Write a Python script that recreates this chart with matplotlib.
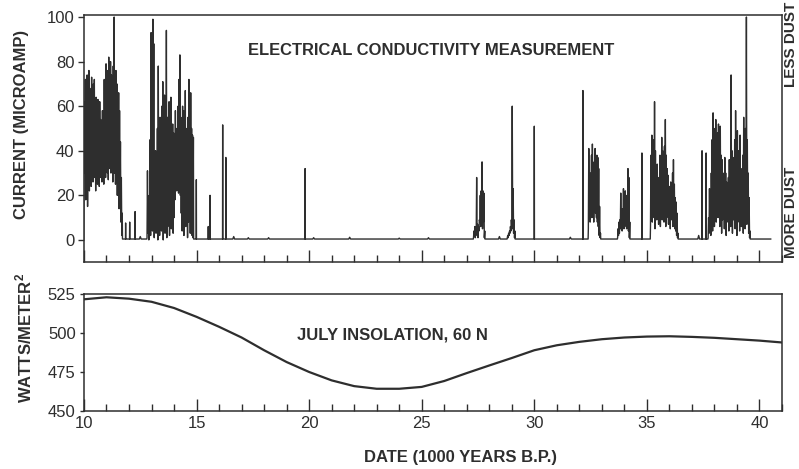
import matplotlib
matplotlib.use("Agg")
import matplotlib.pyplot as plt
from matplotlib.ticker import MultipleLocator

plt.rcParams["font.family"] = ["Liberation Sans", "DejaVu Sans"]
plt.rcParams["mathtext.fontset"] = "custom"
plt.rcParams["mathtext.bf"] = "Liberation Sans:bold"
plt.rcParams["mathtext.rm"] = "Liberation Sans:bold"

INK = "#2e2e2e"

# --- conductivity record (dense bursts read as low/high pairs, step 0.04 kyr) ---
STEP = 0.04
BASE = 0.4

b1_start = 10.00
b1_high = [62, 72, 66, 74, 60, 76, 68, 58, 73, 64, 70, 72, 55, 64, 58, 63, 50, 62, 54, 52,
           58, 46, 72, 62, 79, 64, 76, 82, 70, 80, 74, 68, 78, 100, 72, 76, 70, 64, 66, 58,
           44, 28, 12]
b1_low = [20, 30, 18, 25, 15, 28, 22, 32, 24, 30, 26, 34, 28, 22, 30, 25, 32, 24, 28, 35,
          26, 30, 25, 33, 28, 35, 30, 27, 32, 36, 30, 34, 26, 38, 30, 25, 32, 20, 25, 14,
          18, 8, 2]

b2_start = 12.80
b2_high = [31, 12, 20, 45, 93, 60, 99, 88, 30, 40, 25, 50, 78, 45, 55, 40, 60, 71, 50, 65,
           45, 94, 55, 48, 62, 50, 64, 45, 52, 48, 42, 58, 50, 45, 60, 72, 83, 55, 48, 60,
           58, 52, 67, 50, 45, 55, 72, 60, 66, 50, 47, 46]
b2_low = [1, 3, 0, 8, 2, 12, 4, 14, 1, 10, 3, 6, 0, 12, 2, 15, 4, 8, 0, 10,
          3, 13, 1, 6, 12, 2, 9, 5, 14, 3, 10, 18, 24, 22, 26, 21, 25, 20, 12, 4,
          15, 2, 10, 6, 14, 1, 8, 12, 3, 10, 2, 1]

b3_start = 27.30
b3_high = [4, 6, 5, 28, 7, 6, 9, 20, 22, 35, 22, 21, 4]
b3_low = [1, 2, 1, 3, 2, 1, 4, 8, 6, 10, 5, 8, 1]

b4_start = 28.80
b4_high = [2, 3, 4, 6, 9, 60, 23, 9, 4]
b4_low = [1, 1, 2, 3, 4, 6, 5, 3, 1]

b5_start = 32.40
b5_high = [41, 18, 30, 38, 43, 28, 35, 41, 30, 38, 37, 32, 15, 3]
b5_low = [5, 10, 8, 14, 10, 12, 8, 15, 12, 10, 8, 6, 2, 1]

b6_start = 33.70
b6_high = [5, 8, 9, 21, 12, 14, 23, 16, 22, 18, 20, 32, 28, 8]
b6_low = [1, 2, 3, 5, 6, 4, 7, 5, 6, 8, 5, 6, 4, 1]

b7_start = 35.16
b7_high = [38, 47, 40, 45, 62, 40, 30, 34, 27, 28, 38, 25, 46, 40, 30, 42, 54, 38, 32, 29,
           22, 24, 26, 20, 30, 36, 25, 19, 17, 12, 3]
b7_low = [6, 12, 8, 15, 10, 5, 12, 9, 14, 7, 11, 6, 13, 9, 15, 8, 12, 6, 10, 14,
          7, 11, 5, 9, 12, 6, 8, 5, 4, 2, 1]

b8_start = 37.72
b8_high = [10, 23, 18, 30, 45, 57, 50, 46, 54, 40, 48, 52, 42, 51, 38, 36, 30, 28, 37, 30,
           26, 22, 28, 36, 30, 74, 40, 37, 30, 45, 58, 44, 49, 40, 35, 47, 32, 24, 38, 55,
           44, 50, 100, 45, 30, 19, 4]
b8_low = [1, 3, 6, 2, 10, 4, 12, 6, 14, 8, 20, 10, 24, 6, 12, 3, 9, 14, 5, 11,
          2, 8, 13, 4, 10, 6, 12, 3, 9, 15, 5, 11, 2, 8, 14, 4, 10, 6, 12, 3,
          9, 5, 13, 7, 10, 3, 1]

spike_dates = [11.85, 12.03, 12.27, 14.99, 15.52, 15.60, 16.16, 16.30, 19.82,
               30.00, 32.16, 34.78, 37.45, 37.63]
spike_heights = [7.6, 8, 12.7, 27, 6, 20, 51.6, 37, 32,
                 51, 67, 39, 40, 39]

blip_dates = [12.50, 16.65, 17.30, 18.20, 20.20, 21.80, 24.00, 25.30, 28.45, 31.60, 37.30]
blip_heights = [1.5, 1.5, 1.0, 1.0, 1.0, 1.2, 0.8, 1.0, 1.5, 1.2, 2.0]

record_end = 40.5

# --- July insolation, 60 N ---
ins_dates = list(range(10, 42))
ins_values = [521.6, 522.9, 522.0, 520.0, 516.0, 510.3, 503.9, 497.0, 488.8, 481.2,
              474.8, 469.4, 465.7, 464.0, 464.0, 465.2, 469.0, 474.1, 479.0, 483.8,
              488.8, 492.0, 494.2, 495.9, 497.0, 497.6, 497.8, 497.4, 496.8, 495.9,
              495.0, 493.8]


def burst_points(start, highs, lows):
    xs, ys = [], []
    for i, (h, lo) in enumerate(zip(highs, lows)):
        d = start + STEP * i
        xs += [d, d + STEP / 2]
        ys += [lo, h]
    return xs, ys


events = []
for s, hi, lo in [(b1_start, b1_high, b1_low), (b2_start, b2_high, b2_low),
                  (b3_start, b3_high, b3_low), (b4_start, b4_high, b4_low),
                  (b5_start, b5_high, b5_low), (b6_start, b6_high, b6_low),
                  (b7_start, b7_high, b7_low), (b8_start, b8_high, b8_low)]:
    events.append(burst_points(s, hi, lo))
for d, h in zip(spike_dates, spike_heights):
    events.append(([d - 0.006, d, d + 0.006], [BASE, h, BASE]))
for d, h in zip(blip_dates, blip_heights):
    events.append(([d - 0.04, d, d + 0.04], [BASE, h, BASE]))
events.sort(key=lambda e: e[0][0])

cx, cy = [], []
for xs, ys in events:
    cx += [xs[0] - 0.01] + xs + [xs[-1] + 0.01]
    cy += [BASE] + ys + [BASE]
cx.append(record_end)
cy.append(BASE)

fig = plt.figure(figsize=(7.99, 4.69), dpi=100)
ax1 = fig.add_axes([0.1051, 0.4414, 0.8736, 0.5266])
ax2 = fig.add_axes([0.1051, 0.1247, 0.8736, 0.2484])

ax1.plot(cx, cy, color=INK, linewidth=1.0)
ax1.set_xlim(10, 41)
ax1.set_ylim(-9.9, 100.9)
ax1.set_yticks([0, 20, 40, 60, 80, 100])
ax1.xaxis.set_major_locator(MultipleLocator(5))
ax1.xaxis.set_minor_locator(MultipleLocator(1))
ax1.tick_params(axis="x", which="major", direction="in", length=9, width=1.0,
                labelbottom=False, color=INK)
ax1.tick_params(axis="x", which="minor", direction="in", length=5, width=1.0, color=INK)
ax1.tick_params(axis="y", direction="out", length=4, width=1.0, labelsize=12,
                labelcolor=INK, color=INK, pad=3)
ax1.text(0.235, 0.855, "ELECTRICAL CONDUCTIVITY MEASUREMENT", transform=ax1.transAxes,
         fontsize=11.9, fontweight="bold", color=INK, va="center", ha="left")

ax2.plot(ins_dates, ins_values, color=INK, linewidth=1.6)
ax2.set_xlim(10, 41)
ax2.set_ylim(450, 525)
ax2.set_yticks([450, 475, 500, 525])
ax2.xaxis.set_major_locator(MultipleLocator(5))
ax2.xaxis.set_minor_locator(MultipleLocator(1))
ax2.tick_params(axis="x", which="major", direction="in", length=9, width=1.0,
                labelsize=12, labelcolor=INK, color=INK, pad=4)
ax2.tick_params(axis="x", which="minor", direction="in", length=5, width=1.0, color=INK)
ax2.tick_params(axis="y", direction="out", length=3, width=1.0, labelsize=12,
                labelcolor=INK, color=INK, pad=3)
ax2.text(0.305, 0.65, "JULY INSOLATION, 60 N", transform=ax2.transAxes,
         fontsize=12, fontweight="bold", color=INK, va="center", ha="left")

for ax in (ax1, ax2):
    for sp in ax.spines.values():
        sp.set_linewidth(1.1)
        sp.set_color(INK)

fig.text(22 / 799, 1 - 124 / 469, "CURRENT (MICROAMP)", rotation=90, ha="center",
         va="center", fontsize=12, fontweight="bold", color=INK)
fig.text(24 / 799, 1 - 338 / 469, r"WATTS/METER$^{\mathbf{2}}$", rotation=90, ha="center",
         va="center", fontsize=12, fontweight="bold", color=INK)
fig.text(460 / 799, 1 - 457 / 469, "DATE (1000 YEARS B.P.)", ha="center", va="center",
         fontsize=12, fontweight="bold", color=INK)
fig.text(791 / 799, 1 - 44 / 469, "LESS DUST", rotation=90, ha="center", va="center",
         fontsize=11, fontweight="bold", color=INK)
fig.text(791 / 799, 1 - 212 / 469, "MORE DUST", rotation=90, ha="center", va="center",
         fontsize=11, fontweight="bold", color=INK)

fig.savefig("out.png", dpi=100)
